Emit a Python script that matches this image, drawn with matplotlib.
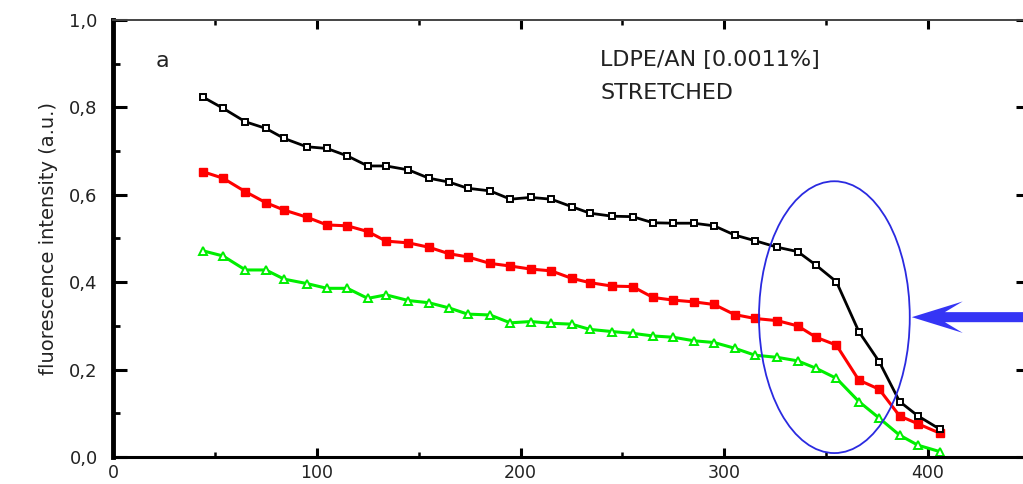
import numpy as np
import matplotlib
matplotlib.use("Agg")
import matplotlib.pyplot as plt
from matplotlib.patches import Ellipse, FancyArrow
from matplotlib.ticker import MultipleLocator, FuncFormatter

plt.rcParams["font.family"] = ["DejaVu Sans"]

# ── data ─────────────────────────────────────────────────────────────────────
x_pos = [44, 54, 65, 75, 84, 95, 105, 115, 125, 134, 145, 155, 165, 174, 185,
         195, 205, 215, 225, 234, 245, 255, 265, 275, 285, 295, 305, 315, 326,
         336, 345, 355, 366, 376, 386, 395, 406]

black = [0.824, 0.798, 0.767, 0.752, 0.729, 0.710, 0.706, 0.689, 0.666, 0.666,
         0.657, 0.638, 0.629, 0.615, 0.609, 0.590, 0.594, 0.590, 0.573, 0.558,
         0.551, 0.550, 0.536, 0.535, 0.535, 0.529, 0.508, 0.495, 0.480, 0.470,
         0.439, 0.401, 0.287, 0.218, 0.127, 0.094, 0.063]

red = [0.653, 0.638, 0.607, 0.582, 0.565, 0.549, 0.531, 0.529, 0.516, 0.494,
       0.490, 0.480, 0.465, 0.458, 0.443, 0.437, 0.430, 0.426, 0.409, 0.399,
       0.391, 0.390, 0.365, 0.359, 0.355, 0.349, 0.326, 0.317, 0.312, 0.300,
       0.274, 0.256, 0.176, 0.155, 0.094, 0.076, 0.054]

green = [0.472, 0.460, 0.428, 0.428, 0.407, 0.397, 0.386, 0.386, 0.363, 0.371,
         0.358, 0.353, 0.341, 0.327, 0.325, 0.307, 0.310, 0.306, 0.304, 0.292,
         0.287, 0.283, 0.277, 0.274, 0.266, 0.262, 0.249, 0.233, 0.228, 0.220,
         0.203, 0.180, 0.127, 0.089, 0.050, 0.027, 0.012]

title_lines = ["LDPE/AN [0.0011%]", "STRETCHED"]
panel_tag = "a"
y_label = "fluorescence intensity (a.u.)"

# highlighted region (centre x, centre y, width, height)
ring = (354, 0.320, 74, 0.622)

# ── figure ───────────────────────────────────────────────────────────────────
W, H = 1023, 484
fig = plt.figure(figsize=(W / 100, H / 100), dpi=100)
ax = fig.add_axes([113 / W, 27 / H, 917 / W, 437 / H])

ax.plot(x_pos, black, color="black", lw=2.0, marker="s", ms=4.8,
        mfc="white", mec="black", mew=1.4, zorder=4)
ax.plot(x_pos, red, color="#ff0000", lw=2.2, marker="s", ms=5.8,
        mfc="#ff0000", mec="#ff0000", zorder=3)
ax.plot(x_pos, green, color="#00ee00", lw=2.2, marker="^", ms=5.2,
        mfc="white", mec="#00ee00", mew=1.4, zorder=2)

ax.set_xlim(0, 450)
ax.set_ylim(0, 1.0)

ax.xaxis.set_major_locator(MultipleLocator(100))
ax.xaxis.set_minor_locator(MultipleLocator(50))
ax.yaxis.set_major_locator(MultipleLocator(0.2))
ax.yaxis.set_minor_locator(MultipleLocator(0.1))
ax.yaxis.set_major_formatter(FuncFormatter(lambda v, p: f"{v:.1f}".replace(".", ",")))

ax.tick_params(axis="both", which="both", direction="in", top=True, right=True,
               labelsize=13, colors="black", labelcolor="#222222")
ax.tick_params(axis="y", which="major", length=10, width=2.2, pad=11)
ax.tick_params(axis="y", which="minor", length=5, width=2.0)
ax.tick_params(axis="x", which="major", length=6.5, width=2.2, pad=5, labelsize=12.5)
ax.tick_params(axis="x", which="minor", length=3.5, width=1.8)

ax.spines["left"].set_linewidth(3.5)
ax.spines["bottom"].set_linewidth(2.2)
ax.spines["top"].set_linewidth(1.4)
ax.spines["top"].set_color("#444444")
ax.spines["right"].set_linewidth(1.4)

ax.set_ylabel(y_label, fontsize=14, color="#222222", labelpad=8)

ax.text(21, 0.906, panel_tag, fontsize=16, va="center", ha="left", color="#222222")
ax.text(239, 0.908, title_lines[0], fontsize=16, va="center", ha="left", color="#222222")
ax.text(239, 0.833, title_lines[1], fontsize=16, va="center", ha="left", color="#222222")

# ellipse around the steep drop
ax.add_patch(Ellipse((ring[0], ring[1]), ring[2], ring[3], fill=False,
                     edgecolor="#2a2ae0", lw=1.3, zorder=5, clip_on=False))

# arrow pointing at the ellipse from the right edge
ax.add_patch(FancyArrow(460, ring[1], 392 - 460, 0, width=0.023,
                        head_width=0.072, head_length=25, overhang=0.35,
                        length_includes_head=True, color="#3535f5",
                        lw=0, zorder=6, clip_on=False))

fig.savefig("out.png", dpi=100)
